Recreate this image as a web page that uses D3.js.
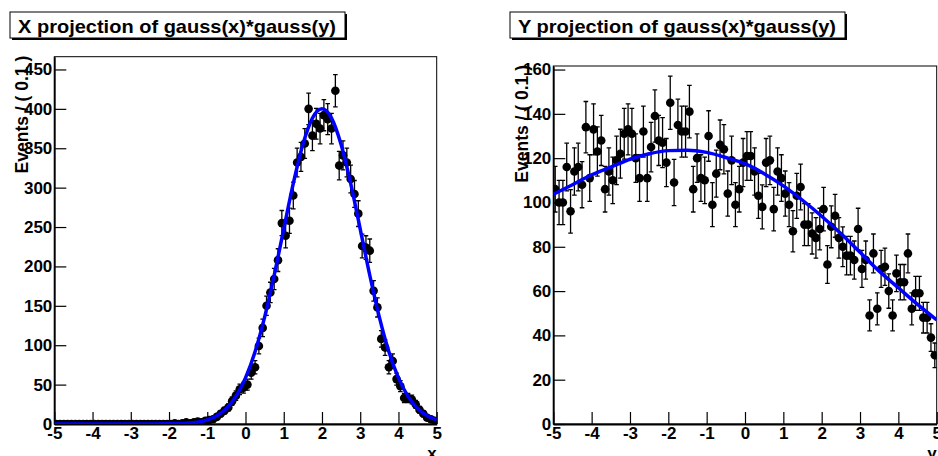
<!DOCTYPE html>
<html>
<head>
<meta charset="utf-8">
<script src="https://cdn.jsdelivr.net/npm/d3@7"></script>
<style>
  body { margin: 0; background: #fff; }
  text { font-family: "Liberation Sans", Arial, Helvetica, sans-serif; font-weight: bold; fill: #000; }
</style>
</head>
<body>
<svg id="chart" width="938" height="456"></svg>
<script>
// Data: 100 bins of width 0.1 between -5 and 5
const xCounts = [
  0, 0, 0, 0, 0, 0, 0, 0, 0, 0,
  0, 0, 0, 0, 0, 0, 0, 0, 0, 0,
  0, 0, 0, 0, 0, 0, 0, 0, 0, 0,
  0, 1, 0, 1, 2, 1, 2, 3, 2, 4,
  5, 6, 9, 13, 17, 21, 29, 36, 44, 46,
  50, 65, 72, 99, 122, 150, 167, 184, 208, 255,
  239, 258, 290, 332, 339, 356, 400, 366, 381, 375,
  392, 387, 375, 423, 328, 341, 332, 311, 292, 267,
  226, 224, 220, 169, 148, 108, 97, 72, 80, 57,
  48, 33, 33, 31, 25, 18, 13, 8, 6, 4
];
const yCounts = [
  106, 100, 100, 116, 96, 114, 116, 108, 134, 111,
  133, 123, 128, 106, 114, 110, 119, 122, 131, 133,
  131, 120, 111, 132, 111, 125, 139, 128, 127, 118,
  145, 109, 135, 132, 132, 141, 106, 120, 111, 110,
  130, 99, 113, 126, 124, 104, 119, 99, 106, 118,
  121, 121, 114, 103, 98, 118, 119, 97, 114, 111,
  104, 99, 87, 103, 107, 90, 90, 86, 84, 88,
  97, 72, 89, 94, 84, 80, 76, 76, 74, 88,
  70, 74, 49, 77, 52, 70, 71, 60, 49, 68,
  64, 64, 77, 52, 59, 59, 48, 48, 39, 31
];

// Fitted curves
const xFitX = [-5, -3, -2, -1.5, -1, -0.75, -0.5, -0.25, 0, 0.25, 0.5, 0.75, 1, 1.25, 1.5, 1.75, 2,
               2.25, 2.5, 2.75, 3, 3.25, 3.5, 3.75, 4, 4.25, 4.5, 4.75, 5];
const xFitY = [0, 0, 0.2, 1.1, 5.3, 10.6, 19.8, 35.1, 58.5, 91.8, 135.7, 188.8, 247.4, 305.3, 354.7, 388.2, 400,
               388.2, 354.7, 305.3, 247.4, 188.8, 135.7, 91.8, 58.5, 35.1, 19.8, 10.6, 5.3];
const yFitX = [-5, -4.5, -4, -3.5, -3, -2.5, -2, -1.5, -1, -0.5, 0, 0.5, 1, 1.5, 2, 2.5, 3, 3.5, 4, 4.5, 5];
const yFitY = [103.7, 108, 112.5, 116, 119.5, 122, 123.4, 123.6, 122.6, 120.3, 117.5, 113, 107.5, 101,
               93.8, 86, 77.5, 69, 61.5, 54, 47];

// Tick labels
const xTicks = [-5, -4, -3, -2, -1, 0, 1, 2, 3, 4, 5];
const leftYTicks = [0, 50, 100, 150, 200, 250, 300, 350, 400, 450];
const rightYTicks = [0, 20, 40, 60, 80, 100, 120, 140, 160];

const binCenters = d3.range(100).map(i => -4.95 + 0.1 * i);

const svg = d3.select("#chart");

const panels = [
  {
    id: "px", title: "X projection of gauss(x)*gauss(y)", axisTitle: "x",
    box: { x: 10, y: 12, w: 335, h: 26 },
    frame: { x0: 54.3, x1: 436.7, y0: 56.7, y1: 424 },
    ymax: 466.2, yTicks: leftYTicks, yMinorStep: 10,
    counts: xCounts, fitX: xFitX, fitY: xFitY, ytitleX: 28
  },
  {
    id: "py", title: "Y projection of gauss(x)*gauss(y)", axisTitle: "y",
    box: { x: 510, y: 12, w: 335, h: 26 },
    frame: { x0: 553.3, x1: 936.7, y0: 66, y1: 424 },
    ymax: 161.6, yTicks: rightYTicks, yMinorStep: 5,
    counts: yCounts, fitX: yFitX, fitY: yFitY, ytitleX: 528
  }
];

panels.forEach(p => {
  const f = p.frame;
  const x = d3.scaleLinear().domain([-5, 5]).range([f.x0, f.x1]);
  const y = d3.scaleLinear().domain([0, p.ymax]).range([f.y1, f.y0]);
  const g = svg.append("g").attr("id", p.id);

  // title box with shadow
  g.append("rect")
    .attr("x", p.box.x + 2).attr("y", p.box.y + 2)
    .attr("width", p.box.w).attr("height", p.box.h)
    .attr("fill", "#000");
  g.append("rect")
    .attr("x", p.box.x).attr("y", p.box.y)
    .attr("width", p.box.w).attr("height", p.box.h)
    .attr("fill", "#fff").attr("stroke", "#000").attr("stroke-width", 1);
  g.append("text")
    .attr("x", p.box.x + 8).attr("y", p.box.y + 21)
    .attr("textLength", 318).attr("lengthAdjust", "spacingAndGlyphs")
    .style("font-size", "19px")
    .text(p.title);

  // frame
  g.append("rect")
    .attr("x", f.x0).attr("y", f.y0)
    .attr("width", f.x1 - f.x0).attr("height", f.y1 - f.y0)
    .attr("fill", "none").attr("stroke", "#000").attr("stroke-width", 1);

  // axes (ticks point inward)
  const xMinor = d3.range(-5, 5.001, 0.2);
  const gx = g.append("g").attr("transform", `translate(0,${f.y1})`);
  gx.call(d3.axisBottom(x).tickValues(xMinor).tickSize(-6).tickSizeOuter(0).tickFormat(""));
  gx.call(d3.axisBottom(x).tickValues(xTicks).tickSize(-12).tickSizeOuter(0).tickPadding(3)
    .tickFormat(d => String(d)));

  const yMinor = d3.range(0, p.ymax, p.yMinorStep);
  const gy = g.append("g").attr("transform", `translate(${f.x0},0)`);
  gy.call(d3.axisLeft(y).tickValues(yMinor).tickSize(-6).tickSizeOuter(0).tickFormat(""));
  gy.call(d3.axisLeft(y).tickValues(p.yTicks).tickSize(-12).tickSizeOuter(0).tickPadding(2)
    .tickFormat(d => String(d)));

  [gx, gy].forEach(a => {
    a.selectAll("path.domain").attr("stroke", "#000").attr("stroke-width", 1.8);
    a.selectAll(".tick line").attr("stroke", "#000").attr("stroke-width", 1.2);
    a.selectAll("text").style("font-size", "17px").attr("fill", "#000")
      .style("font-family", "'Liberation Sans', Arial, sans-serif").style("font-weight", "bold");
  });

  // axis titles
  g.append("text")
    .attr("x", f.x1).attr("y", 459)
    .attr("text-anchor", "end")
    .style("font-size", "17px")
    .text(p.axisTitle);
  g.append("text")
    .attr("transform", `translate(${p.ytitleX},${f.y0 - 1}) rotate(-90)`)
    .attr("text-anchor", "end")
    .style("font-size", "17.5px")
    .text("Events / ( 0.1 )");

  // clip to frame
  g.append("clipPath").attr("id", "clip-" + p.id)
    .append("rect")
    .attr("x", f.x0).attr("y", f.y0)
    .attr("width", f.x1 - f.x0).attr("height", f.y1 - f.y0);
  const plot = g.append("g").attr("clip-path", `url(#clip-${p.id})`);

  const pts = p.counts.map((c, i) => ({
    x: binCenters[i], n: c,
    lo: c > 0 ? c - Math.sqrt(c) : 0,
    hi: c > 0 ? c + Math.sqrt(c) : 1.15
  }));

  // error bars
  const eb = plot.append("g").attr("stroke", "#000").attr("stroke-width", 1.3);
  eb.selectAll("line.ey").data(pts).join("line").attr("class", "ey")
    .attr("x1", d => x(d.x)).attr("x2", d => x(d.x))
    .attr("y1", d => y(d.lo)).attr("y2", d => y(d.hi));
  eb.selectAll("line.ex").data(pts).join("line").attr("class", "ex")
    .attr("x1", d => x(d.x - 0.05)).attr("x2", d => x(d.x + 0.05))
    .attr("y1", d => y(d.n)).attr("y2", d => y(d.n));
  eb.selectAll("line.capHi").data(pts).join("line").attr("class", "capHi")
    .attr("x1", d => x(d.x) - 2.3).attr("x2", d => x(d.x) + 2.3)
    .attr("y1", d => y(d.hi)).attr("y2", d => y(d.hi));
  eb.selectAll("line.capLo").data(pts.filter(d => d.n > 0)).join("line").attr("class", "capLo")
    .attr("x1", d => x(d.x) - 2.3).attr("x2", d => x(d.x) + 2.3)
    .attr("y1", d => y(d.lo)).attr("y2", d => y(d.lo));

  // markers
  plot.append("g").selectAll("circle").data(pts).join("circle")
    .attr("cx", d => x(d.x)).attr("cy", d => y(d.n))
    .attr("r", 4.3).attr("fill", "#000");

  // fit curve
  const fit = p.fitX.map((v, i) => [v, p.fitY[i]]);
  plot.append("path")
    .datum(fit)
    .attr("fill", "none").attr("stroke", "#0000ff").attr("stroke-width", 3.5)
    .attr("d", d3.line().x(d => x(d[0])).y(d => y(d[1])).curve(d3.curveMonotoneX));
});
</script>
</body>
</html>
